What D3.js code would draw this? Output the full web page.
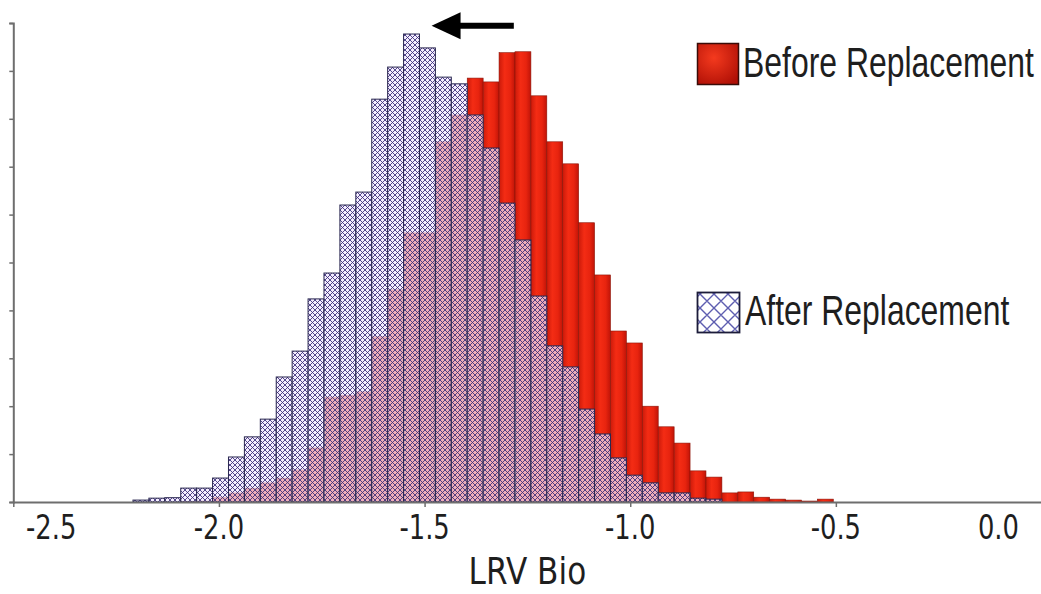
<!DOCTYPE html>
<html>
<head>
<meta charset="utf-8">
<script src="https://cdn.jsdelivr.net/npm/d3@7"></script>
<style>
  body { margin: 0; background: #fff; }
  svg { display: block; }
</style>
</head>
<body>
<div id="chart"></div>
<script>
// histogram bins (LRV Bio), counts
const binStart = -2.209;
const binWidth = 0.0387;
const afterCounts = [4, 8, 9, 29, 29, 50, 94, 136, 173, 261, 315, 424, 478, 620, 647, 841, 908, 977, 948, 887,
  873, 808, 739, 624, 547, 430, 326, 282, 194, 142, 92, 56, 40, 19, 19, 8, 6, 0, 0, 0, 0, 0, 0, 0];
const beforeCounts = [0, 0, 0, 1, 2, 10, 19, 29, 40, 50, 67, 113, 219, 223, 230, 345, 443, 562, 562, 752,
  808, 885, 877, 938, 940, 848, 752, 706, 583, 474, 357, 332, 200, 157, 123, 65, 52, 19, 21, 10, 6, 4, 2, 6];
const xTicks = [-2.5, -2.0, -1.5, -1.0, -0.5, 0.0];
const yTicks = d3.range(0, 1001, 100);
const legendLabels = ['Before Replacement', 'After Replacement'];
const arrowFrom = [-1.283, 994];
const arrowTo = [-1.483, 994];

const width = 1041, height = 594;
const squeeze = 0.76; // the picture is narrower than it is tall

const x = d3.scaleLinear().domain([-2.5, 0]).range([13.3, 1041.5]);
const y = d3.scaleLinear().domain([0, 1000]).range([502, 23]);

const svg = d3.select('#chart').append('svg')
  .attr('width', width)
  .attr('height', height);

const defs = svg.append('defs');

// red bar shading
const grad = defs.append('linearGradient').attr('id', 'redGrad')
  .attr('x1', 0).attr('x2', 1).attr('y1', 0).attr('y2', 0);
grad.append('stop').attr('offset', '0%').attr('stop-color', '#cc1a0a');
grad.append('stop').attr('offset', '35%').attr('stop-color', '#f42c14');
grad.append('stop').attr('offset', '70%').attr('stop-color', '#e8240f');
grad.append('stop').attr('offset', '100%').attr('stop-color', '#c01408');

const gradBox = defs.append('radialGradient').attr('id', 'redBox')
  .attr('cx', '40%').attr('cy', '35%').attr('r', '75%');
gradBox.append('stop').attr('offset', '0%').attr('stop-color', '#f43a1e');
gradBox.append('stop').attr('offset', '100%').attr('stop-color', '#b01006');

// cross hatch patterns
function hatch(id, size, lineW, color, lineOpacity, bg, bgOpacity) {
  const p = defs.append('pattern').attr('id', id)
    .attr('patternUnits', 'userSpaceOnUse')
    .attr('width', size).attr('height', size);
  p.append('rect').attr('width', size).attr('height', size)
    .attr('fill', bg).attr('fill-opacity', bgOpacity);
  p.append('path')
    .attr('d', `M0,0L${size},${size}M${size},0L0,${size}` +
      `M${-size/2},${size/2}L${size/2},${-size/2}M${size/2},${size*1.5}L${size*1.5},${size/2}` +
      `M${-size/2},${size/2}L${size/2},${size*1.5}M${size/2},${-size/2}L${size*1.5},${size/2}`)
    .attr('stroke', color).attr('stroke-opacity', lineOpacity)
    .attr('stroke-width', lineW).attr('fill', 'none');
}
hatch('hatchBar', 5, 1.0, '#3a2c78', 0.85, '#f0e8ff', 0.7);
hatch('hatchBox', 14, 1.4, '#5e5eb0', 1, '#ffffff', 1);

const bins = d3.range(afterCounts.length).map(i => ({
  x0: binStart + i * binWidth,
  x1: binStart + (i + 1) * binWidth,
  before: beforeCounts[i],
  after: afterCounts[i]
}));

// before replacement (solid red) underneath
svg.append('g').selectAll('rect')
  .data(bins.filter(d => d.before > 0))
  .join('rect')
  .attr('x', d => x(d.x0))
  .attr('width', d => x(d.x1) - x(d.x0))
  .attr('y', d => y(d.before))
  .attr('height', d => y(0) - y(d.before))
  .attr('fill', 'url(#redGrad)')
  .attr('stroke', '#8c1408')
  .attr('stroke-width', 0.6);

// after replacement (hatched, see-through) on top
svg.append('g').selectAll('rect')
  .data(bins.filter(d => d.after > 0))
  .join('rect')
  .attr('x', d => x(d.x0))
  .attr('width', d => x(d.x1) - x(d.x0))
  .attr('y', d => y(d.after))
  .attr('height', d => y(0) - y(d.after))
  .attr('fill', 'url(#hatchBar)')
  .attr('stroke', '#2a2850')
  .attr('stroke-width', 1);

// axes
const axisColor = '#6e6e6e';
const yAxis = svg.append('g')
  .attr('transform', `translate(${x(-2.5)},0)`)
  .call(d3.axisLeft(y).tickValues(yTicks).tickSize(4).tickFormat(''));
const xAxis = svg.append('g')
  .attr('transform', `translate(0,${y(0)})`)
  .call(d3.axisBottom(x).tickValues(xTicks).tickSize(5).tickFormat('').tickSizeOuter(0));
[yAxis, xAxis].forEach(a => {
  a.select('.domain').attr('stroke', axisColor).attr('stroke-width', 2);
  a.selectAll('.tick line').attr('stroke', axisColor).attr('stroke-width', 1.5);
});

// squeezed text helper
function label(parent, tx, ty, str, size, family, anchor, sx = squeeze) {
  const g = parent.append('g').attr('transform', `translate(${tx},${ty}) scale(${sx},1)`);
  const t = g.append('text')
    .attr('text-anchor', anchor)
    .attr('font-family', family)
    .attr('font-size', size)
    .attr('fill', '#1e1e1e')
    .text(str);
  return { g, t };
}

// x tick labels, kept inside the picture at both ends
const labels = svg.append('g');
xTicks.forEach(v => {
  const lb = label(labels, x(v), 539, v.toFixed(1), 34, 'DejaVu Sans', 'middle');
  const w = lb.t.node().getComputedTextLength() * squeeze;
  const cx = Math.max(26 + w / 2, Math.min(1019 - w / 2, x(v)));
  lb.g.attr('transform', `translate(${cx},539) scale(${squeeze},1)`);
});

label(svg, (x(-2.5) + x(0)) / 2, 584, 'LRV Bio', 38, 'DejaVu Sans', 'middle', 0.82);

// legend
const legend = svg.append('g');
legend.append('rect')
  .attr('x', 697.5).attr('y', 43.5).attr('width', 41).attr('height', 41)
  .attr('fill', 'url(#redBox)').attr('stroke', '#3a0c08').attr('stroke-width', 1.5);
label(legend, 743, 77, legendLabels[0], 42, 'Liberation Sans', 'start');
legend.append('rect')
  .attr('x', 697.5).attr('y', 292.5).attr('width', 42).attr('height', 40)
  .attr('fill', 'url(#hatchBox)').attr('stroke', '#1c1c3a').attr('stroke-width', 1.8);
label(legend, 745, 325, legendLabels[1], 42, 'Liberation Sans', 'start');

// shift arrow
const ax0 = x(arrowFrom[0]), ax1 = x(arrowTo[0]), ay = y(arrowTo[1]);
svg.append('line')
  .attr('x1', ax0).attr('y1', ay).attr('x2', ax1 + 24).attr('y2', ay)
  .attr('stroke', '#000').attr('stroke-width', 6);
svg.append('path')
  .attr('d', d3.line()([[ax1, ay], [ax1 + 29, ay - 13.5], [ax1 + 29, ay + 13.5]]) + 'Z')
  .attr('fill', '#000');
</script>
</body>
</html>
